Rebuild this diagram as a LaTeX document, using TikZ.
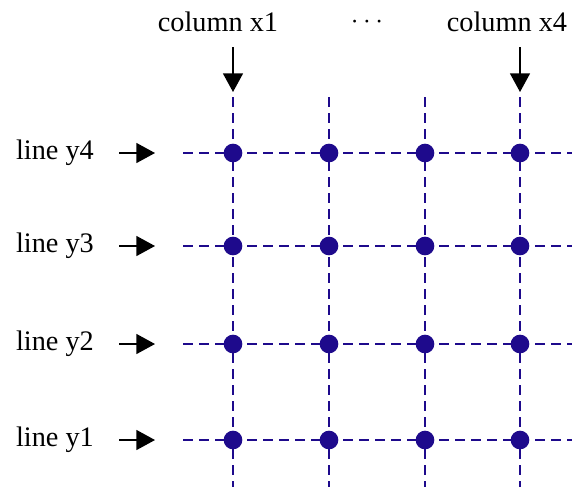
\documentclass[tikz,border=0pt]{standalone}
\usepackage{fontspec}
\setmainfont{Liberation Serif}
\usepackage{xcolor}
\usepackage{tikz}
\usetikzlibrary{arrows.meta}
\definecolor{gridblue}{RGB}{30,10,140}

\begin{document}
\begin{tikzpicture}[x=0.75pt,y=-0.75pt,
  lbl/.style={font=\fontsize{21.2}{24}\selectfont, inner sep=0pt},
  gridline/.style={gridblue, dash pattern=on 7.5pt off 4.5pt, line width=1.1pt},
  pin/.style={-{Triangle[length=14pt,width=15pt]}, line width=1.1pt},
  dot/.style={circle, fill=gridblue, minimum size=14pt, inner sep=0pt}]
\useasboundingbox (0,0) rectangle (577,487);
% grid
\foreach \i/\x in {1/233,2/329,3/425,4/520}
  \draw[gridline] (\x,97) -- (\x,487);
\foreach \j/\y in {1/440,2/344,3/246,4/153}
  \draw[gridline] (183,\y) -- (572,\y);
\foreach \i/\x in {1/233,2/329,3/425,4/520}
  \foreach \j/\y in {1/440,2/344,3/246,4/153}
    \node[dot] (d\i\j) at (\x,\y) {};
% columns
\node[lbl] (colx1) at (218,22) {column x1};
\node[lbl] (cdots) at (367,22) {$\cdots$};
\node[lbl] (colx4) at (507,22) {column x4};
\coordinate (tx1) at (233,92);
\coordinate (tx4) at (520,92);
\draw[pin] (233,47) -- (tx1);
\draw[pin] (520,47) -- (tx4);
% lines
\foreach \j/\y in {1/440,2/344,3/246,4/153}{
  \node[lbl] (liney\j) at (55,\y) {line y\j};
  \coordinate (ty\j) at (155,\y);
  \draw[pin] (119,\y) -- (ty\j);
}
\end{tikzpicture}
\end{document}
